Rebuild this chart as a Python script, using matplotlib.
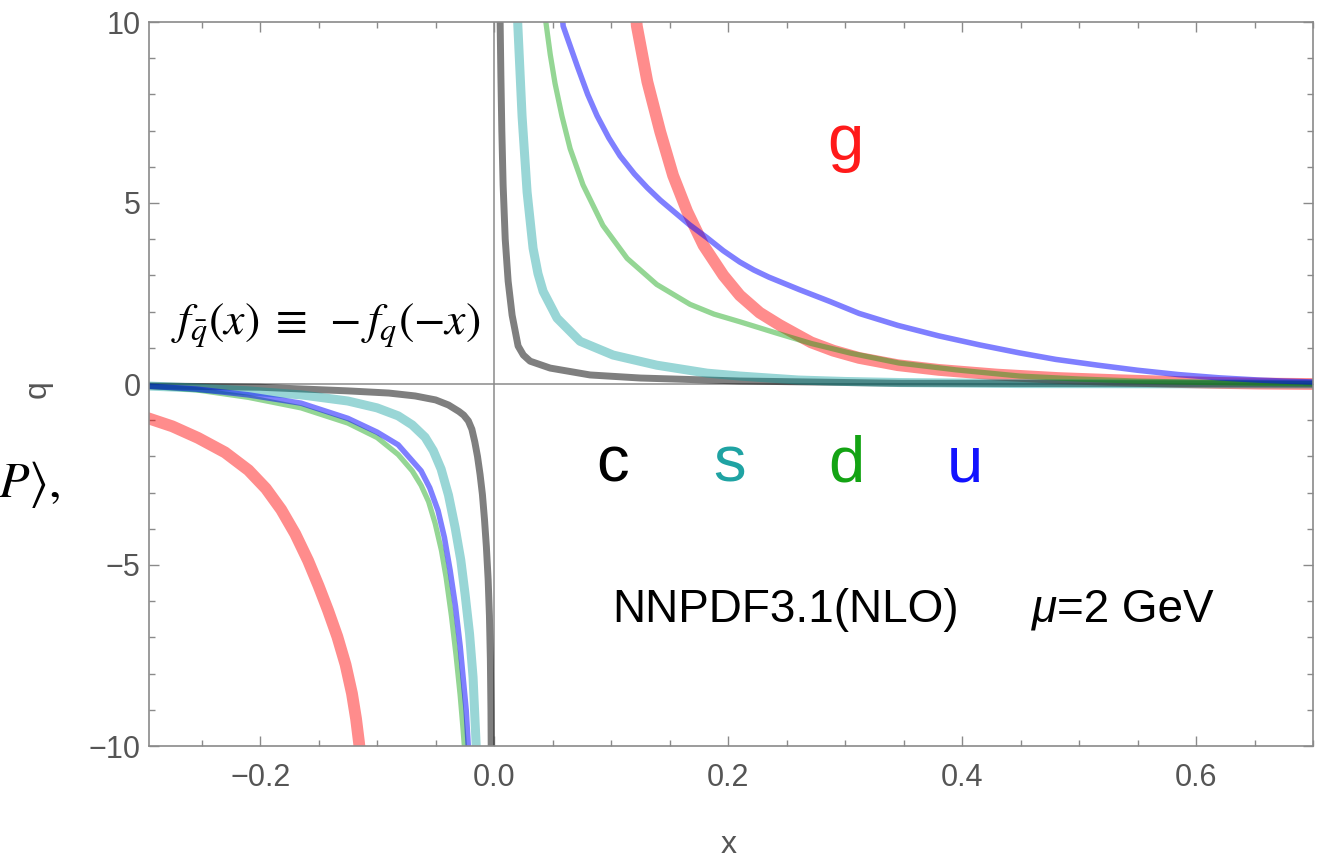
import matplotlib
matplotlib.use("Agg")
import matplotlib.pyplot as plt
from matplotlib.ticker import MultipleLocator, FixedLocator, FixedFormatter

# ---------------- data ----------------
# positive-x branch (quarks / gluon)
x_c_pos = [0.0049, 0.0052, 0.0058, 0.0066, 0.0077, 0.0095, 0.012, 0.0154, 0.0205, 0.025, 0.0308,
           0.0479, 0.082, 0.125, 0.21, 0.347, 0.70]
c_pos   = [10.5, 9.89, 8.5, 7.0, 5.5, 4.0, 2.84, 1.90, 1.05, 0.80, 0.63,
           0.44, 0.25, 0.165, 0.083, 0.02, 0.0]

x_s_pos = [0.0196, 0.0203, 0.0239, 0.0282, 0.0333, 0.0375, 0.0419, 0.0538, 0.0735, 0.1017, 0.139,
           0.182, 0.21, 0.26, 0.30, 0.347, 0.45, 0.70]
s_pos   = [10.5, 9.89, 7.4, 5.3, 3.75, 3.05, 2.56, 1.82, 1.18, 0.80, 0.52,
           0.30, 0.22, 0.11, 0.07, 0.04, 0.012, 0.0]

x_d_pos = [0.0425, 0.0436, 0.048, 0.0521, 0.058, 0.065, 0.076, 0.093, 0.1137, 0.139, 0.1675, 0.188,
           0.21, 0.24, 0.271, 0.305, 0.346, 0.395, 0.449, 0.50, 0.55, 0.60, 0.653, 0.70]
d_pos   = [10.5, 10.15, 9.1, 8.3, 7.4, 6.5, 5.5, 4.38, 3.47, 2.75, 2.2, 1.93,
           1.72, 1.42, 1.12, 0.85, 0.58, 0.39, 0.22, 0.138, 0.08, 0.047, 0.02, 0.01]

x_u_pos = [0.0575, 0.059, 0.071, 0.08, 0.088, 0.098, 0.1077, 0.12, 0.131, 0.142, 0.153, 0.167,
           0.182, 0.196, 0.21, 0.222, 0.235, 0.2615, 0.287, 0.312, 0.345, 0.380, 0.415, 0.449,
           0.48, 0.516, 0.55, 0.585, 0.62, 0.653, 0.675, 0.70]
u_pos   = [10.5, 9.89, 8.79, 8.0, 7.41, 6.8, 6.3, 5.8, 5.42, 5.08, 4.78, 4.4,
           4.04, 3.68, 3.37, 3.15, 2.95, 2.6, 2.28, 1.95, 1.62, 1.33, 1.08, 0.86,
           0.68, 0.52, 0.38, 0.26, 0.17, 0.11, 0.08, 0.055]

x_g_pos = [0.1205, 0.122, 0.131, 0.142, 0.153, 0.165, 0.179, 0.196, 0.21, 0.227, 0.244, 0.258,
           0.271, 0.29, 0.312, 0.345, 0.380, 0.43, 0.482, 0.53, 0.585, 0.62, 0.653, 0.70]
g_pos   = [10.5, 9.89, 8.35, 6.97, 5.76, 4.77, 3.83, 3.0, 2.45, 1.97, 1.63, 1.38,
           1.15, 0.92, 0.72, 0.52, 0.39, 0.26, 0.165, 0.108, 0.055, 0.03, 0.012, 0.0]

# negative-x branch (antiquarks, f_qbar(x) = -f_q(-x))
x_c_neg = [-0.30, -0.20, -0.125, -0.09, -0.0675, -0.05, -0.039, -0.03, -0.026, -0.022, -0.019,
           -0.0165, -0.0142, -0.012, -0.010, -0.0082, -0.0066, -0.0051, -0.0040, -0.0032,
           -0.0027, -0.0024]
c_neg   = [-0.05, -0.09, -0.19, -0.25, -0.33, -0.44, -0.58, -0.76, -0.86, -1.02, -1.25,
           -1.6, -2.0, -2.5, -3.05, -3.75, -4.5, -5.4, -6.4, -7.6,
           -9.0, -10.5]

x_s_neg = [-0.30, -0.255, -0.210, -0.165, -0.125, -0.10, -0.082, -0.07, -0.059, -0.052, -0.0453,
           -0.039, -0.0333, -0.0285, -0.0248, -0.021, -0.018, -0.0154, -0.0150]
s_neg   = [-0.05, -0.11, -0.19, -0.30, -0.47, -0.66, -0.88, -1.13, -1.47, -1.84, -2.35,
           -3.07, -3.97, -4.86, -5.81, -6.9, -8.1, -9.94, -10.5]

x_u_neg = [-0.30, -0.255, -0.210, -0.165, -0.125, -0.10, -0.082, -0.0624, -0.055, -0.0479,
           -0.0425, -0.0376, -0.033, -0.029, -0.0239, -0.0222, -0.0215]
u_neg   = [-0.05, -0.14, -0.30, -0.53, -0.95, -1.33, -1.68, -2.40, -2.87, -3.50,
           -4.24, -5.15, -6.15, -7.25, -9.0, -9.94, -10.5]

x_d_neg = [-0.30, -0.255, -0.210, -0.165, -0.125, -0.10, -0.082, -0.07, -0.0624, -0.056, -0.0504,
           -0.045, -0.041, -0.0365, -0.0325, -0.029, -0.0265, -0.0252, -0.0245]
d_neg   = [-0.05, -0.16, -0.37, -0.66, -1.08, -1.48, -1.95, -2.4, -2.8, -3.25, -3.85,
           -4.6, -5.35, -6.4, -7.5, -8.6, -9.55, -10.1, -10.5]

x_g_neg = [-0.30, -0.275, -0.253, -0.23, -0.210, -0.195, -0.182, -0.17, -0.159, -0.15, -0.142,
           -0.134, -0.127, -0.1215, -0.118, -0.1155, -0.1135]
g_neg   = [-0.90, -1.17, -1.49, -1.89, -2.38, -2.89, -3.47, -4.14, -4.88, -5.58, -6.25,
           -6.98, -7.75, -8.55, -9.25, -9.9, -10.5]

x_ticks = [-0.2, 0.0, 0.2, 0.4, 0.6]
x_tick_labels = ["\u22120.2", "0.0", "0.2", "0.4", "0.6"]
y_ticks = [-10, -5, 0, 5, 10]
y_tick_labels = ["\u221210", "\u22125", "0", "5", "10"]

flavours = ["g", "c", "s", "d", "u"]

# ---------------- styling ----------------
plt.rcParams['font.family'] = ['Liberation Sans', 'DejaVu Sans']
plt.rcParams['mathtext.fontset'] = 'stix'

W, H = 1328, 859
fig = plt.figure(figsize=(W / 100, H / 100), dpi=100)
L, R, T, B = 149, 1313, 22, 746
ax = fig.add_axes([L / W, 1 - B / H, (R - L) / W, (B - T) / H])

band_col = {
    "g": (1.0, 0.0, 0.0, 0.45),
    "c": (0.0, 0.0, 0.0, 0.50),
    "s": (0.0, 0.6, 0.6, 0.40),
    "d": (0.0, 0.62, 0.0, 0.42),
    "u": (0.0, 0.0, 1.0, 0.50),
}
band_w = {"g": 8.5, "c": 5.0, "s": 6.5, "d": 3.8, "u": 4.0}

data_pos = {"g": (x_g_pos, g_pos), "c": (x_c_pos, c_pos), "s": (x_s_pos, s_pos),
            "d": (x_d_pos, d_pos), "u": (x_u_pos, u_pos)}
data_neg = {"g": (x_g_neg, g_neg), "c": (x_c_neg, c_neg), "s": (x_s_neg, s_neg),
            "d": (x_d_neg, d_neg), "u": (x_u_neg, u_neg)}

axis_gray = "#8a8a8a"
ax.axhline(0, color=axis_gray, lw=1.1, zorder=1)
ax.axvline(0, color=axis_gray, lw=1.1, zorder=1)

for f in flavours:
    for xs, ys in (data_pos[f], data_neg[f]):
        ax.plot(xs, ys, color=band_col[f], lw=band_w[f], solid_capstyle='butt',
                solid_joinstyle='round', zorder=2)

ax.set_xlim(-0.295, 0.70)
ax.set_ylim(-10, 10)

ax.xaxis.set_major_locator(FixedLocator(x_ticks))
ax.xaxis.set_major_formatter(FixedFormatter(x_tick_labels))
ax.yaxis.set_major_locator(FixedLocator(y_ticks))
ax.yaxis.set_major_formatter(FixedFormatter(y_tick_labels))
ax.xaxis.set_minor_locator(MultipleLocator(0.05))
ax.yaxis.set_minor_locator(MultipleLocator(1))

ax.tick_params(which='both', direction='in', top=True, right=True, color=axis_gray, width=1.0)
ax.tick_params(which='major', length=7.5)
ax.tick_params(which='minor', length=4)
ax.tick_params(axis='x', which='major', pad=12, labelsize=22, labelcolor='#555555')
ax.tick_params(axis='y', which='major', pad=6, labelsize=22, labelcolor='#555555')
for s in ax.spines.values():
    s.set_color(axis_gray)
    s.set_linewidth(1.2)

# axis labels
fig.text(729 / W, 1 - 845 / H, "x", color='#555555', fontsize=23, ha='center', va='center')
fig.text(38 / W, 1 - 389 / H, "q", color='#555555', fontsize=23, ha='center', va='center', rotation=90)
fig.text(-2 / W, 1 - 497 / H, r"$P\rangle$,", color='black', fontsize=36, ha='left',
         va='baseline', math_fontfamily='stix', family=['STIXGeneral', 'DejaVu Serif'])

# annotations
fig.text(171 / W, 1 - 335 / H, r"$f_{\bar{q}}(x)\;\equiv\;-f_q(-x)$", fontsize=33,
         ha='left', va='baseline', math_fontfamily='stix', color='black')

label_col = {"c": "black", "s": "#1fa3a3", "d": "#13a313", "u": "#1212ff", "g": "#ff1a1a"}
label_pos = {"c": (613, 481), "s": (730, 481), "d": (846, 481), "u": (965, 481), "g": (845, 160)}
for f in flavours:
    px, py = label_pos[f]
    fig.text(px / W, 1 - py / H, f, color=label_col[f], fontsize=47, ha='center', va='baseline')

fig.text(612 / W, 1 - 622 / H, "NNPDF3.1(NLO)", fontsize=33, ha='left', va='baseline', color='black')
mu = fig.text(1032 / W, 1 - 622 / H, "\u03bc", fontsize=33, ha='left', va='baseline',
              color='black', style='italic')
fig.canvas.draw()
ext = mu.get_window_extent()
fig.text(ext.x1 / W, 1 - 622 / H, "=2 GeV", fontsize=33, ha='left', va='baseline', color='black')

fig.savefig("out.png", dpi=100)
